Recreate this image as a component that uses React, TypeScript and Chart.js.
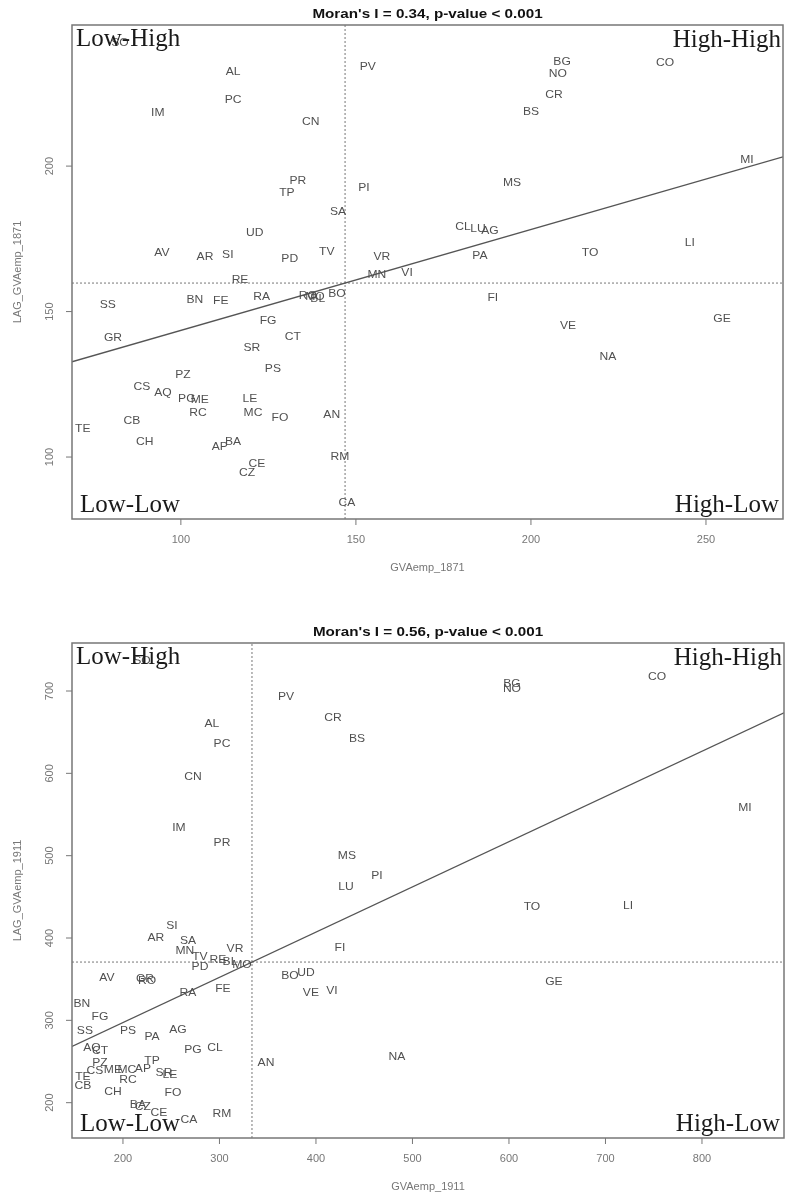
import React, { useEffect, useRef } from "react";
import { Chart, registerables } from "chart.js";

Chart.register(...registerables);

// ---------- 1871 ----------
const codes1871 = [
  "SO", "AL", "PC", "IM", "CN", "PV", "PR", "TP", "PI", "SA",
  "UD", "AV", "AR", "SI", "PD", "TV", "VR", "MN", "VI", "BG",
  "NO", "CO", "CR", "BS", "MS", "MI", "CL", "LU", "AG", "PA",
  "TO", "LI", "RE", "SS", "BN", "FE", "RA", "RO", "MO", "BL",
  "BO", "FG", "CT", "GR", "SR", "PS", "PZ", "CS", "AQ", "PG",
  "ME", "RC", "LE", "MC", "FO", "AN", "TE", "CB", "CH", "AP",
  "BA", "CE", "CZ", "RM", "CA", "FI", "VE", "GE", "NA",
];
const gva1871 = [
  82.6, 114.9, 114.9, 93.4, 137.1, 153.4, 133.4, 130.3, 152.3, 144.9,
  121.1, 94.6, 106.9, 113.4, 131.1, 141.7, 157.4, 156.0, 164.6, 208.9,
  207.7, 238.3, 206.6, 200.0, 194.6, 261.7, 180.6, 184.9, 188.3, 185.4,
  216.9, 245.4, 116.9, 79.1, 104.0, 111.4, 123.1, 136.3, 138.3, 139.1,
  144.6, 124.9, 132.0, 80.6, 120.3, 126.3, 100.6, 88.9, 94.9, 101.7,
  105.4, 104.9, 119.7, 120.6, 128.3, 143.1, 72.0, 86.0, 89.7, 111.1,
  114.9, 121.7, 118.9, 145.4, 147.4, 189.1, 210.6, 254.6, 222.0,
];
const lag1871 = [
  242.3, 232.3, 222.7, 218.2, 215.1, 234.0, 194.8, 190.7, 192.4, 184.2,
  177.0, 170.1, 168.7, 169.4, 168.0, 170.4, 168.7, 162.5, 163.2, 235.7,
  231.6, 235.4, 224.4, 218.6, 194.2, 202.1, 179.0, 178.4, 177.7, 169.1,
  170.1, 173.5, 160.8, 152.2, 154.0, 153.6, 155.0, 155.3, 155.0, 154.3,
  156.0, 146.7, 141.2, 140.9, 137.5, 130.2, 128.2, 124.1, 122.0, 119.9,
  119.6, 115.1, 119.9, 115.1, 113.4, 114.4, 109.6, 112.4, 105.2, 103.4,
  105.2, 97.6, 94.5, 100.0, 84.2, 154.6, 145.0, 147.4, 134.4,
];
const xTicks1871 = [100, 150, 200, 250];
const yTicks1871 = [100, 150, 200];
const mean1871X = 146.9;
const mean1871Y = 159.8;
const slope1871 = 0.347;

// ---------- 1911 ----------
const codes1911 = [
  "SO", "PV", "CR", "BS", "AL", "PC", "CN", "BG", "NO", "CO",
  "IM", "PR", "MS", "PI", "LU", "FI", "SI", "AR", "SA", "MN",
  "VR", "TV", "PD", "RE", "BL", "MO", "AV", "GR", "RO", "BO",
  "UD", "VE", "VI", "RA", "FE", "MI", "TO", "LI", "GE", "BN",
  "FG", "SS", "PS", "PA", "AG", "AQ", "CT", "PG", "CL", "AN",
  "NA", "PZ", "CS", "ME", "MC", "AP", "TP", "LE", "SR", "TE",
  "CB", "RC", "CH", "FO", "BA", "CZ", "CE", "CA", "RM",
];
const gva1911 = [
  219.7, 368.9, 417.6, 442.5, 292.2, 302.6, 272.5, 603.1, 603.1, 753.4,
  258.0, 302.6, 432.1, 463.2, 431.1, 424.9, 250.8, 234.2, 267.4, 264.2,
  316.1, 279.8, 279.8, 298.4, 310.9, 323.3, 183.4, 222.8, 224.9, 373.1,
  389.6, 394.8, 416.6, 267.4, 303.6, 844.6, 623.8, 723.3, 646.6, 157.5,
  176.2, 160.6, 205.2, 230.1, 257.0, 167.9, 176.2, 272.5, 295.3, 348.2,
  483.9, 176.2, 171.0, 189.6, 204.1, 220.7, 230.1, 248.7, 242.5, 158.5,
  158.5, 205.2, 189.6, 251.8, 215.5, 220.7, 237.3, 268.4, 302.6,
];
const lag1911 = [
  736.4, 692.7, 667.2, 641.7, 659.9, 635.6, 595.5, 708.5, 702.4, 717.0,
  533.6, 515.4, 499.6, 475.3, 461.9, 387.8, 414.6, 400.0, 396.3, 384.2,
  386.6, 376.9, 364.8, 373.3, 370.8, 367.2, 351.4, 350.2, 347.8, 353.8,
  357.5, 333.2, 335.6, 333.2, 338.0, 557.9, 437.6, 438.9, 346.5, 319.8,
  304.0, 287.0, 287.0, 279.7, 288.2, 266.4, 262.7, 263.9, 266.4, 248.2,
  255.5, 248.2, 238.4, 239.7, 239.7, 240.9, 250.6, 233.6, 236.0, 231.2,
  220.2, 227.5, 212.9, 211.7, 197.1, 194.7, 187.4, 178.9, 186.2,
];
const xTicks1911 = [200, 300, 400, 500, 600, 700, 800];
const yTicks1911 = [200, 300, 400, 500, 600, 700];
const mean1911X = 333.7;
const mean1911Y = 370.8;
const slope1911 = 0.549;

interface Panel {
  title: string;
  xTitle: string;
  yTitle: string;
  codes: string[];
  xs: number[];
  ys: number[];
  xTicks: number[];
  yTicks: number[];
  xMin: number;
  xMax: number;
  yMin: number;
  yMax: number;
  xMean: number;
  yMean: number;
  slope: number;
  padTop: number;
  padRight: number;
  xAxisHeight: number;
}

const panels: Panel[] = [
  {
    title: "Moran's I = 0.34, p-value < 0.001",
    xTitle: "GVAemp_1871",
    yTitle: "LAG_GVAemp_1871",
    codes: codes1871,
    xs: gva1871,
    ys: lag1871,
    xTicks: xTicks1871,
    yTicks: yTicks1871,
    xMin: 68.9,
    xMax: 272,
    yMin: 78.7,
    yMax: 248.5,
    xMean: mean1871X,
    yMean: mean1871Y,
    slope: slope1871,
    padTop: 25,
    padRight: 3,
    xAxisHeight: 79,
  },
  {
    title: "Moran's I = 0.56, p-value < 0.001",
    xTitle: "GVAemp_1911",
    yTitle: "LAG_GVAemp_1911",
    codes: codes1911,
    xs: gva1911,
    ys: lag1911,
    xTicks: xTicks1911,
    yTicks: yTicks1911,
    xMin: 147.2,
    xMax: 885,
    yMin: 157.1,
    yMax: 758.3,
    xMean: mean1911X,
    yMean: mean1911Y,
    slope: slope1911,
    padTop: 45,
    padRight: 2,
    xAxisHeight: 58,
  },
];

const SANS = '"Liberation Sans", Arial, sans-serif';
const SERIF = '"Liberation Serif", "Times New Roman", serif';

function makePlugin(p: Panel) {
  return {
    id: "moranDecor",
    afterDatasetsDraw(chart: any) {
      const ctx = chart.ctx as CanvasRenderingContext2D;
      const meta = chart.getDatasetMeta(0);
      ctx.save();
      ctx.font = "11px " + SANS;
      ctx.fillStyle = "#505050";
      ctx.textAlign = "center";
      ctx.textBaseline = "middle";
      meta.data.forEach((el: any, i: number) => {
        ctx.save();
        ctx.translate(el.x, el.y);
        ctx.scale(1.1, 1);
        ctx.fillText(p.codes[i], 0, 0);
        ctx.restore();
      });
      ctx.restore();
    },
    afterDraw(chart: any) {
      const ctx = chart.ctx as CanvasRenderingContext2D;
      const a = chart.chartArea;
      const sx = chart.scales.x;
      const sy = chart.scales.y;
      ctx.save();
      // box
      ctx.strokeStyle = "#777";
      ctx.lineWidth = 1.5;
      ctx.setLineDash([]);
      ctx.strokeRect(a.left, a.top, a.right - a.left, a.bottom - a.top);

      // ticks
      ctx.lineWidth = 1;
      ctx.strokeStyle = "#777";
      ctx.fillStyle = "#777";
      ctx.font = "11px " + SANS;
      ctx.textAlign = "center";
      ctx.textBaseline = "middle";
      p.xTicks.forEach((v) => {
        const x = sx.getPixelForValue(v);
        ctx.beginPath();
        ctx.moveTo(x, a.bottom);
        ctx.lineTo(x, a.bottom + 6);
        ctx.stroke();
        ctx.fillText(String(v), x, a.bottom + 21);
      });
      p.yTicks.forEach((v) => {
        const y = sy.getPixelForValue(v);
        ctx.beginPath();
        ctx.moveTo(a.left - 6, y);
        ctx.lineTo(a.left, y);
        ctx.stroke();
        ctx.save();
        ctx.translate(50, y);
        ctx.rotate(-Math.PI / 2);
        ctx.fillText(String(v), 0, 0);
        ctx.restore();
      });

      // axis titles
      ctx.fillText(p.xTitle, (a.left + a.right) / 2, a.bottom + 49);
      ctx.save();
      ctx.translate(18, (a.top + a.bottom) / 2);
      ctx.rotate(-Math.PI / 2);
      ctx.fillText(p.yTitle, 0, 0);
      ctx.restore();

      // title
      ctx.fillStyle = "#111";
      ctx.font = "bold 13px " + SANS;
      ctx.textBaseline = "alphabetic";
      ctx.save();
      ctx.translate((a.left + a.right) / 2, a.top - 7);
      ctx.scale(1.17, 1);
      ctx.fillText(p.title, 0, 0);
      ctx.restore();

      // quadrant labels
      ctx.font = "25px " + SERIF;
      ctx.fillStyle = "#1a1a1a";
      ctx.textAlign = "left";
      ctx.fillText("Low-High", a.left + 4, a.top + 21);
      ctx.fillText("Low-Low", a.left + 8, a.bottom - 7);
      ctx.textAlign = "right";
      ctx.fillText("High-High", a.right - 2, a.top + 22);
      ctx.fillText("High-Low", a.right - 4, a.bottom - 7);
      ctx.restore();
    },
  };
}

function MoranChart({ p }: { p: Panel }) {
  const ref = useRef<HTMLCanvasElement | null>(null);
  useEffect(() => {
    if (!ref.current) return;
    const pts = p.xs.map((x, i) => ({ x, y: p.ys[i] }));
    const regY = (x: number) => p.yMean + p.slope * (x - p.xMean);
    const chart = new Chart(ref.current, {
      type: "scatter",
      data: {
        datasets: [
          {
            data: pts,
            pointRadius: 0,
            pointHoverRadius: 0,
            showLine: false,
          },
          {
            data: [
              { x: p.xMin, y: regY(p.xMin) },
              { x: p.xMax, y: regY(p.xMax) },
            ],
            showLine: true,
            pointRadius: 0,
            borderColor: "#555",
            borderWidth: 1.3,
          },
          {
            data: [
              { x: p.xMean, y: p.yMin },
              { x: p.xMean, y: p.yMax },
            ],
            showLine: true,
            pointRadius: 0,
            borderColor: "#777",
            borderWidth: 1,
            borderDash: [2, 2],
          },
          {
            data: [
              { x: p.xMin, y: p.yMean },
              { x: p.xMax, y: p.yMean },
            ],
            showLine: true,
            pointRadius: 0,
            borderColor: "#777",
            borderWidth: 1,
            borderDash: [2, 2],
          },
        ],
      } as any,
      options: {
        animation: false,
        responsive: false,
        devicePixelRatio: 1,
        events: [],
        layout: { padding: { top: p.padTop, right: p.padRight, left: 0, bottom: 0 } },
        plugins: { legend: { display: false }, title: { display: false }, tooltip: { enabled: false } },
        scales: {
          x: {
            type: "linear",
            min: p.xMin,
            max: p.xMax,
            grid: { display: false },
            border: { display: false },
            ticks: { display: false },
            afterFit: (s: any) => {
              s.height = p.xAxisHeight;
            },
          },
          y: {
            type: "linear",
            min: p.yMin,
            max: p.yMax,
            grid: { display: false },
            border: { display: false },
            ticks: { display: false },
            afterFit: (s: any) => {
              s.width = 72;
            },
          },
        },
      } as any,
      plugins: [makePlugin(p)],
    });
    return () => chart.destroy();
  }, [p]);
  return <canvas ref={ref} width={786} height={598} style={{ display: "block" }} />;
}

export default function App() {
  return (
    <div style={{ position: "absolute", left: 0, top: 0, width: 786, height: 1196, background: "#fff" }}>
      {panels.map((p, i) => (
        <MoranChart key={i} p={p} />
      ))}
    </div>
  );
}
